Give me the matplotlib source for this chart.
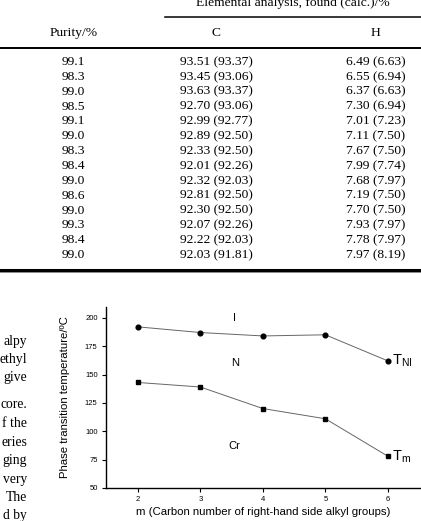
import matplotlib
matplotlib.use("Agg")
import matplotlib.pyplot as plt
from matplotlib.lines import Line2D

# table data
purity = ["99.1", "98.3", "99.0", "98.5", "99.1", "99.0", "98.3",
          "98.4", "99.0", "98.6", "99.0", "99.3", "98.4", "99.0"]
c_found = ["93.51", "93.45", "93.63", "92.70", "92.99", "92.89", "92.33",
           "92.01", "92.32", "92.81", "92.30", "92.07", "92.22", "92.03"]
c_calc = ["93.37", "93.06", "93.37", "93.06", "92.77", "92.50", "92.50",
          "92.26", "92.03", "92.50", "92.50", "92.26", "92.03", "91.81"]
h_found = ["6.49", "6.55", "6.37", "7.30", "7.01", "7.11", "7.67",
           "7.99", "7.68", "7.19", "7.70", "7.93", "7.78", "7.97"]
h_calc = ["6.63", "6.94", "6.63", "6.94", "7.23", "7.50", "7.50",
          "7.74", "7.97", "7.50", "7.50", "7.97", "7.97", "8.19"]

# body text fragments (cut by the page edge)
texto_arriba = ["alpy", "ethyl", "give"]
texto_abajo = ["core.", "f the", "eries", "ging", "very", "The", "d by"]

# chart data
m_vals = [2, 3, 4, 5, 6]
t_ni = [192, 187, 184, 185, 162]
t_m = [143, 139, 120, 111, 78]

W, H = 421, 521
fig = plt.figure(figsize=(W / 100, H / 100), dpi=100)

def fx(x):
    return x / W

def fy(y):
    return 1 - y / H

serif = "Liberation Serif"
sans = "Liberation Sans"
fs = 9.7

# ---- tabla ----
fig.text(fx(293), fy(3), "Elemental analysis, found (calc.)/%", ha="center", va="center",
         family=serif, fontsize=fs)
fig.add_artist(Line2D([fx(165), 1], [fy(17), fy(17)], color="k", lw=1.1))
fig.text(fx(74), fy(33), "Purity/%", ha="center", va="center", family=serif, fontsize=fs)
fig.text(fx(216), fy(33), "C", ha="center", va="center", family=serif, fontsize=fs)
fig.text(fx(376), fy(33), "H", ha="center", va="center", family=serif, fontsize=fs)
fig.add_artist(Line2D([0, 1], [fy(48), fy(48)], color="k", lw=1.4))

for i in range(len(purity)):
    y = 62 + i * 14.85
    fig.text(fx(73), fy(y), purity[i], ha="center", va="center", family=serif, fontsize=fs)
    fig.text(fx(216), fy(y), "%s (%s)" % (c_found[i], c_calc[i]), ha="center", va="center",
             family=serif, fontsize=fs)
    fig.text(fx(376), fy(y), "%s (%s)" % (h_found[i], h_calc[i]), ha="center", va="center",
             family=serif, fontsize=fs)

# regla doble al final de la tabla
fig.add_artist(Line2D([0, 1], [fy(270), fy(270)], color="k", lw=2.2))
fig.add_artist(Line2D([0, 1], [fy(271.5), fy(271.5)], color="#777777", lw=0.6))

# ---- texto del cuerpo ----
for i, t in enumerate(texto_arriba):
    fig.text(fx(27), fy(341 + i * 18.5), t, ha="right", va="center", family=serif, fontsize=9.8)
for i, t in enumerate(texto_abajo):
    fig.text(fx(27), fy(405 + i * 18.5), t, ha="right", va="center", family=serif, fontsize=9.8)

# ---- grafica ----
ax = fig.add_axes([106 / W, (H - 488) / H, 315 / W, 181 / H])
ax.plot(m_vals, t_ni, color="#666666", lw=0.7, marker="o", ms=3.4, mfc="k", mec="k")
ax.plot(m_vals, t_m, color="#666666", lw=0.7, marker="s", ms=3.2, mfc="k", mec="k")
ax.set_xlim(1.49, 6.53)
ax.set_ylim(50, 209.5)
ax.set_xticks(m_vals)
ax.set_yticks([50, 75, 100, 125, 150, 175, 200])
ax.spines["top"].set_visible(False)
ax.spines["right"].set_visible(False)
for s in ["left", "bottom"]:
    ax.spines[s].set_linewidth(1.0)
ax.tick_params(axis="both", direction="out", length=3, width=0.8, labelsize=5.5,
               pad=3)
for lab in ax.get_xticklabels() + ax.get_yticklabels():
    lab.set_family(sans)

ax.set_ylabel("Phase transition temperature/\u00baC", family=sans, fontsize=8.2)
ax.yaxis.set_label_coords(-0.114, 0.5)
ax.set_xlabel("m (Carbon number of right-hand side alkyl groups)", family=sans,
              fontsize=8.2)
ax.xaxis.set_label_coords(0.5, -0.133)
ax.xaxis.label.set_va("center")

ax.text(3.55, 200, "I", ha="center", va="center", family=sans, fontsize=8)
ax.text(3.55, 160, "N", ha="center", va="center", family=sans, fontsize=8)
ax.text(3.55, 87, "Cr", ha="center", va="center", family=sans, fontsize=8)
ax.text(6.07, 162, r"T$_{\mathregular{NI}}$", ha="left", va="center",
        family=sans, fontsize=10.5)
ax.text(6.07, 78, r"T$_{\mathregular{m}}$", ha="left", va="center",
        family=sans, fontsize=10.5)

fig.savefig("out.png", dpi=100)
